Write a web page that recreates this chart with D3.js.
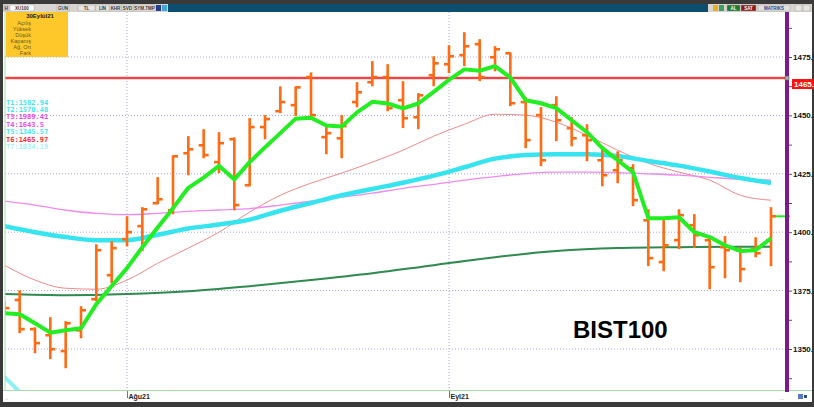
<!DOCTYPE html>
<html>
<head>
<meta charset="utf-8">
<script src="https://cdn.jsdelivr.net/npm/d3@7"></script>
<style>
  body { margin: 0; background: #3a3a3a; }
  svg { display: block; font-family: "Liberation Sans", Arial, sans-serif; }
</style>
</head>
<body>
<div id="chart"></div>
<script>
// ==== Dữ liệu (BIST100 ngày) ====
const dates = [
  "2021-07-14","2021-07-16","2021-07-19","2021-07-26","2021-07-27","2021-07-28","2021-07-29","2021-07-30",
  "2021-08-02","2021-08-03","2021-08-04","2021-08-05","2021-08-06","2021-08-09","2021-08-10","2021-08-11",
  "2021-08-12","2021-08-13","2021-08-16","2021-08-17","2021-08-18","2021-08-19","2021-08-20","2021-08-23",
  "2021-08-24","2021-08-25","2021-08-26","2021-08-27","2021-08-31",
  "2021-09-01","2021-09-02","2021-09-03","2021-09-06","2021-09-07","2021-09-08","2021-09-09","2021-09-10",
  "2021-09-13","2021-09-14","2021-09-15","2021-09-16","2021-09-17","2021-09-20","2021-09-21","2021-09-22",
  "2021-09-23","2021-09-24","2021-09-27","2021-09-28","2021-09-29","2021-09-30"
];
const opens = [1367.0,1371.0,1358.5,1355.9,1349.1,1358.0,1371.3,1381.6,1397.0,1402.6,1412.4,1409.4,1433.8,1437.2,1430.0,1439.8,
  1420.1,1445.0,1451.8,1454.4,1466.4,1440.7,1440.2,1455.7,1464.2,1466.4,1456.5,1449.2,1467.2,1471.9,1475.8,1480.5,
  1474.9,1476.6,1455.7,1450.1,1454.4,1444.5,1441.5,1430.8,1426.5,1427.4,1405.1,1387.2,1396.6,1403.0,1396.6,1393.6,
  1392.3,1392.7,1396.6];
const highs = [1370.0,1374.7,1358.9,1363.2,1361.5,1367.9,1394.4,1395.7,1406.4,1410.3,1423.1,1432.5,1440.7,1443.7,1442.4,1440.2,
  1448.4,1449.7,1462.0,1462.0,1468.0,1445.4,1449.7,1463.8,1472.8,1471.5,1464.2,1459.1,1474.9,1479.6,1485.2,1482.2,
  1479.2,1476.6,1457.4,1453.1,1457.8,1448.8,1445.8,1435.1,1434.2,1428.7,1409.4,1405.1,1409.4,1407.3,1397.9,1397.9,
  1393.2,1397.4,1410.3];
const lows = [1365.8,1357.2,1348.6,1346.1,1342.2,1355.0,1370.9,1378.6,1394.4,1392.3,1412.4,1408.1,1424.8,1432.1,1425.7,1409.8,
  1420.1,1440.2,1451.4,1450.1,1450.1,1433.8,1432.1,1453.9,1462.9,1452.2,1445.0,1444.5,1462.9,1468.5,1471.5,1465.1,
  1469.3,1454.4,1436.4,1428.7,1439.4,1437.2,1430.8,1420.1,1421.4,1411.6,1385.9,1383.7,1393.2,1393.6,1376.0,1380.7,
  1379.0,1389.7,1385.9];
const closes = [1367.5,1358.5,1352.5,1349.9,1361.0,1366.6,1392.3,1393.2,1400.0,1409.8,1414.1,1432.5,1435.5,1433.0,1438.1,1411.6,
  1445.0,1448.4,1455.7,1462.0,1450.1,1442.4,1445.4,1459.9,1466.4,1453.1,1448.8,1458.6,1472.3,1475.3,1479.6,1466.4,
  1478.3,1455.2,1439.4,1430.8,1447.9,1440.2,1439.4,1424.4,1430.8,1413.7,1388.9,1394.4,1407.3,1398.7,1385.0,1392.3,
  1384.2,1391.0,1406.8];

// kısa ortalama (kalın yeşil), her gün için
const maShort = [1365.3,1364.9,1361.0,1357.0,1358.0,1358.9,1369.2,1377.0,1384.6,1393.6,1402.0,1410.3,1419.0,1423.4,1428.4,1422.6,
  1430.0,1436.3,1442.4,1448.6,1449.0,1445.7,1445.2,1451.3,1455.8,1455.1,1453.0,1455.1,1460.1,1465.2,1469.7,1469.1,
  1471.1,1466.2,1456.5,1455.2,1453.1,1447.9,1442.8,1436.0,1430.8,1425.7,1406.0,1406.0,1406.4,1400.0,1397.9,1394.4,
  1392.0,1392.3,1397.4];

// diğer ortalamalar: [gün indeksi, değer]
const maCyan = [[0,1402.6],[2,1400.0],[4,1397.9],[6,1396.6],[8,1396.6],[10,1398.9],[12,1401.6],[14,1403.3],[16,1405.4],
  [18,1409.2],[20,1412.5],[22,1415.8],[24,1418.5],[26,1421.2],[28,1424.2],[30,1427.8],[32,1431.5],[34,1433.0],[36,1433.4],
  [38,1433.4],[40,1432.6],[42,1430.5],[44,1428.5],[46,1426.0],[48,1423.2],[50,1421.1]];
const maPink = [[0,1413.3],[2,1411.6],[4,1409.4],[6,1408.1],[8,1407.5],[10,1408.1],[12,1408.9],[14,1409.5],[16,1410.1],
  [18,1411.6],[20,1413.3],[22,1415.0],[24,1416.7],[26,1418.8],[28,1420.5],[30,1422.3],[32,1423.8],[34,1425.1],[36,1425.7],
  [38,1425.7],[40,1425.5],[42,1425.0],[44,1424.4],[46,1423.5],[48,1422.7],[50,1422.3]];
const maSalmon = [[0,1385.9],[2,1379.5],[4,1376.0],[6,1375.6],[8,1379.5],[10,1386.7],[12,1393.2],[14,1400.0],[16,1408.6],
  [18,1415.8],[20,1421.0],[22,1425.3],[24,1430.0],[26,1435.1],[28,1441.1],[30,1446.2],[32,1450.5],[34,1450.1],[36,1447.1],
  [38,1441.5],[40,1435.1],[42,1429.5],[44,1425.7],[46,1422.3],[48,1415.8],[50,1413.7]];
const maLong = [[0,1373.5],[4,1373.0],[8,1373.5],[12,1374.7],[16,1376.9],[20,1379.5],[24,1382.4],[28,1385.9],[32,1389.3],
  [36,1391.9],[40,1393.2],[44,1393.6],[48,1393.8],[50,1393.8]];
const trendT7 = [[-0.3,1340.0],[1.1,1331.0]];

const resistance = 1466;
const yTicks = [1350, 1375, 1400, 1425, 1450, 1475];
const monthLabels = ["Ağu21", "Eyl21"];
const tLabels = ["T1:1582.94","T2:1570.48","T3:1989.41","T4:1643.5","T5:1345.57","T6:1465.97","T7:1034.19"];
const tColors = ["#3fe6ec","#3fe6ec","#e84ae8","#e84ae8","#3fe6ec","#ff2a2a","#a6f2f4"];
const infoTitle = "30Eylül21";
const infoRows = ["Açılış","Yüksek","Düşük","Kapanış","Ağ. Ort","Fark"];

// ==== Khung ====
const W = 814, H = 407;
const P = { left: 5, right: 787, top: 12, bottom: 390 };

const svg = d3.select("#chart").append("svg").attr("width", W).attr("height", H);
svg.append("rect").attr("width", W).attr("height", H).attr("fill", "#3a3a3a");
svg.append("rect").attr("x", 3).attr("y", 12).attr("width", 809).attr("height", 390).attr("fill", "#fff");

// thanh công cụ phía trên
const tb = svg.append("g");
tb.append("rect").attr("x", 3).attr("y", 4).attr("width", 809).attr("height", 8).attr("fill", "#d8d5d0");
tb.append("rect").attr("x", 168).attr("y", 4).attr("width", 540).attr("height", 8).attr("fill", "#0c4d70");
const tbItems = [
  { x: 4, w: 4, t: "H", bg: "#d8d5d0", c: "#1b3a8a" },
  { x: 10, w: 24, t: "XU100", bg: "#fff", c: "#333" },
  { x: 57, w: 12, t: "GUN", bg: "#e8e6e2", c: "#333" },
  { x: 78, w: 17, t: "TL", bg: "#e8e6e2", c: "#333" },
  { x: 96, w: 13, t: "LIN", bg: "#e8e6e2", c: "#333" },
  { x: 110, w: 11, t: "KHR", bg: "#e8e6e2", c: "#333" },
  { x: 122, w: 11, t: "SVD", bg: "#e8e6e2", c: "#333" },
  { x: 134, w: 21, t: "SYM.TMP", bg: "#e8e6e2", c: "#333" },
  { x: 727, w: 13, t: "AL", bg: "#1f7a2a", c: "#fff" },
  { x: 741, w: 15, t: "SAT", bg: "#8c1c1c", c: "#fff" },
  { x: 758, w: 32, t: "MATRIKS", bg: "#e3e1dd", c: "#2a3f8a" },
  { x: 795, w: 7, t: "", bg: "#e8e6e2", c: "#333" },
  { x: 803, w: 7, t: "", bg: "#e8e6e2", c: "#333" }
];
tbItems.forEach(d => {
  tb.append("rect").attr("x", d.x).attr("y", 5).attr("width", d.w).attr("height", 6)
    .attr("fill", d.bg).attr("stroke", "#a8a6a2").attr("stroke-width", 0.5);
  tb.append("text").attr("x", d.x + d.w / 2).attr("y", 10).attr("text-anchor", "middle")
    .attr("font-size", 4.5).attr("font-weight", "bold").attr("fill", d.c).text(d.t);
});
tb.append("rect").attr("x", 156).attr("y", 5).attr("width", 5).attr("height", 6).attr("fill", "#2c3e8a");
tb.append("rect").attr("x", 162).attr("y", 5).attr("width", 5).attr("height", 6).attr("fill", "#3aa9e0");
tb.append("rect").attr("x", 713).attr("y", 5).attr("width", 5).attr("height", 6).attr("fill", "#e8b020");
tb.append("rect").attr("x", 719).attr("y", 5).attr("width", 5).attr("height", 6).attr("fill", "#3aa060");

// ==== Scales ====
const x = d3.scaleLinear().domain([8, 29]).range([127, 449]);
const y = d3.scaleLinear().domain([1350, 1475]).range([349, 57]);

svg.append("clipPath").attr("id", "plotclip")
  .append("rect").attr("x", P.left).attr("y", P.top).attr("width", P.right - P.left).attr("height", P.bottom - P.top);
const plot = svg.append("g").attr("clip-path", "url(#plotclip)");

// lưới chấm
const monthIdx = dates.map((d, i) => i).filter(i => i > 0 && dates[i].slice(5, 7) !== dates[i - 1].slice(5, 7));
plot.selectAll(".hgrid").data(yTicks).enter().append("line")
  .attr("x1", P.left).attr("x2", P.right).attr("y1", d => y(d)).attr("y2", d => y(d))
  .attr("stroke", "#a5a5d8").attr("stroke-dasharray", "1,2");
plot.selectAll(".vgrid").data(monthIdx).enter().append("line")
  .attr("x1", d => x(d)).attr("x2", d => x(d)).attr("y1", P.top).attr("y2", P.bottom)
  .attr("stroke", "#a5a5d8").attr("stroke-dasharray", "1,2");

// ==== Ortalama çizgileri ====
const lineP = d3.line().x(d => x(d[0])).y(d => y(d[1])).curve(d3.curveMonotoneX);
plot.append("path").attr("d", lineP(maLong)).attr("fill", "none").attr("stroke", "#2e8a4e").attr("stroke-width", 2);
plot.append("path").attr("d", lineP(maSalmon)).attr("fill", "none").attr("stroke", "#f48a8a").attr("stroke-width", 1);
plot.append("path").attr("d", lineP(maPink)).attr("fill", "none").attr("stroke", "#f08af0").attr("stroke-width", 1.3);
plot.append("path").attr("d", lineP(maCyan)).attr("fill", "none").attr("stroke", "#36e4f0").attr("stroke-width", 4.5);
plot.append("path").attr("d", d3.line().x(d => x(d[0])).y(d => y(d[1]))(trendT7))
  .attr("fill", "none").attr("stroke", "#8cf0f6").attr("stroke-width", 4);

// direnç çizgisi
plot.append("line").attr("x1", P.left).attr("x2", P.right).attr("y1", y(resistance)).attr("y2", y(resistance))
  .attr("stroke", "#ffb4b4").attr("stroke-width", 3);
plot.append("line").attr("x1", P.left).attr("x2", P.right).attr("y1", y(resistance)).attr("y2", y(resistance))
  .attr("stroke", "#f21c1c").attr("stroke-width", 1.4);

// ==== OHLC barlar ====
const bars = plot.selectAll(".bar").data(dates.map((d, i) => i)).enter().append("g").attr("class", "bar")
  .attr("stroke", "#ff6a13").attr("stroke-width", 2.6);
bars.append("line").attr("x1", i => x(i)).attr("x2", i => x(i)).attr("y1", i => y(highs[i]) - 1).attr("y2", i => y(lows[i]) + 1);
bars.append("line").attr("x1", i => x(i) - 5).attr("x2", i => x(i)).attr("y1", i => y(opens[i])).attr("y2", i => y(opens[i]));
bars.append("line").attr("x1", i => x(i)).attr("x2", i => x(i) + 5).attr("y1", i => y(closes[i])).attr("y2", i => y(closes[i]));

// kısa ortalama (üstte)
const lineD = d3.line().x((d, i) => x(i)).y(d => y(d));
plot.append("path").attr("d", lineD(maShort)).attr("fill", "none").attr("stroke", "#22ee22")
  .attr("stroke-width", 4).attr("stroke-linejoin", "round");

// son fiyat işareti
const last = closes.length - 1;
svg.append("line").attr("x1", x(last) + 5).attr("x2", P.right + 3)
  .attr("y1", y(closes[last])).attr("y2", y(closes[last])).attr("stroke", "#22ee22").attr("stroke-width", 2);

// kenar çizgileri
svg.append("line").attr("x1", P.left).attr("x2", P.left).attr("y1", P.top).attr("y2", P.bottom)
  .attr("stroke", "#a6dca6").attr("stroke-width", 1);
svg.append("line").attr("x1", 3).attr("x2", 812).attr("y1", P.bottom + 0.5).attr("y2", P.bottom + 0.5)
  .attr("stroke", "#a6dca6").attr("stroke-width", 1.2);

// ==== Sağ eksen ====
const axR = svg.append("g").attr("transform", `translate(${P.right + 2},0)`)
  .call(d3.axisRight(y).tickValues(d3.range(1337.5, 1488, 12.5)).tickSize(3).tickFormat(d => yTicks.includes(d) ? d + "." : ""));
axR.select(".domain").remove();
axR.selectAll("line").attr("stroke", "#555");
axR.selectAll("text").attr("x", 4).attr("font-size", 8).attr("font-weight", "bold")
  .attr("font-family", "'Liberation Sans', Arial, sans-serif").attr("fill", "#111");

// mor dikey çizgi
svg.append("line").attr("x1", P.right).attr("x2", P.right).attr("y1", P.top).attr("y2", P.bottom + 2)
  .attr("stroke", "#7c1a8c").attr("stroke-width", 4);
svg.append("rect").attr("x", P.right - 2).attr("y", y(resistance) - 2).attr("width", 4).attr("height", 4)
  .attr("fill", "#aaa").attr("stroke", "#555").attr("stroke-width", 0.5);

// fiyat etiketi
svg.append("rect").attr("x", 792).attr("y", y(resistance) + 1).attr("width", 22).attr("height", 10).attr("fill", "#ff1010");
svg.append("text").attr("x", 794).attr("y", y(resistance) + 9).attr("font-size", 8).attr("font-weight", "bold")
  .attr("fill", "#fff").text(resistance - 1 + ".");

// ==== Alt eksen ====
const axB = svg.append("g").attr("transform", `translate(0,${P.bottom + 1})`)
  .call(d3.axisBottom(x).tickValues(monthIdx).tickSize(7).tickFormat((d, i) => monthLabels[i]));
axB.select(".domain").remove();
axB.selectAll("line").attr("stroke", "#777");
axB.selectAll("text").attr("text-anchor", "start").attr("x", 1).attr("y", 3)
  .attr("font-size", 7).attr("font-weight", "bold").attr("fill", "#222")
  .attr("font-family", "'Liberation Sans', Arial, sans-serif");
svg.append("text").attr("x", 780).attr("y", 400).attr("font-size", 5).attr("fill", "#888").text("...");
svg.append("rect").attr("x", 798).attr("y", 394).attr("width", 5).attr("height", 5).attr("fill", "#5a78c8");
svg.append("rect").attr("x", 804).attr("y", 395).attr("width", 3).attr("height", 3).attr("fill", "#244a90");
svg.append("text").attr("x", 5).attr("y", 400).attr("font-size", 4).attr("fill", "#777").text("..:");

// ==== Bilgi kutusu ====
svg.append("rect").attr("x", 6).attr("y", 12).attr("width", 62).attr("height", 45).attr("fill", "#ffc82a");
svg.append("text").attr("x", 40).attr("y", 18).attr("text-anchor", "middle").attr("font-size", 6)
  .attr("font-weight", "bold").attr("fill", "#222").text(infoTitle);
svg.selectAll(".info").data(infoRows).enter().append("text")
  .attr("x", 31).attr("y", (d, i) => 25 + i * 6).attr("text-anchor", "end").attr("font-size", 5.6)
  .attr("fill", "#6b5a20").text(d => d);

// T etiketleri
svg.selectAll(".tlab").data(tLabels).enter().append("text")
  .attr("x", 6).attr("y", (d, i) => 104.5 + i * 7.4)
  .attr("font-family", "'DejaVu Sans Mono', monospace").attr("font-size", 7).attr("font-weight", "bold")
  .attr("fill", (d, i) => tColors[i]).text(d => d);

// başlık
svg.append("text").attr("x", 573).attr("y", 338).attr("font-size", 24).attr("font-weight", "bold")
  .attr("fill", "#000").text("BIST100");
</script>
</body>
</html>
